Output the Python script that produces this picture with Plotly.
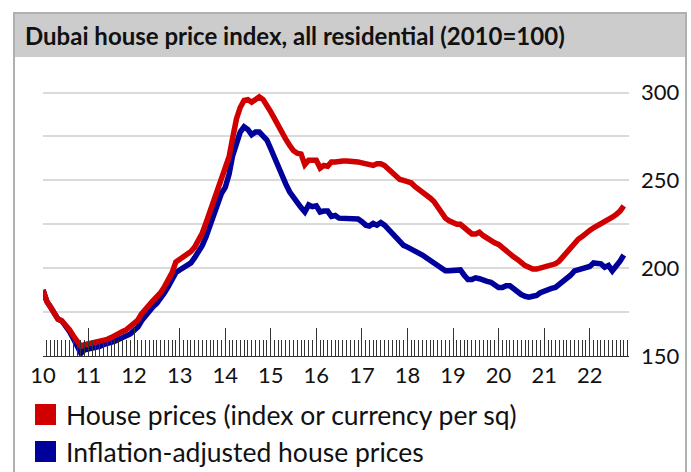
import pandas as pd
import plotly.graph_objects as go

# ---- data, monthly from Jan 2010 ----
house_prices = [
    187.6, 181, 178, 175, 171, 170, 168, 165, 161.5, 158.5, 155.5, 156.5,   # 2010
    157, 157, 157.5, 158, 158.5, 159.5, 160.5, 162, 163, 164, 165, 166.5,   # 2011
    168, 170.5, 174, 177, 179, 181.5, 183.5, 186, 189.5, 193, 197.5, 203.5, # 2012
    205, 206.5, 207.5, 209.5, 212, 215.5, 220, 226, 232.5, 238.5, 244, 250, # 2013
    256, 263.5, 274, 285, 291.5, 295.5, 296, 294.5, 296, 297.5, 296, 293,   # 2014
    289, 285, 281, 277, 273.5, 270, 267, 265.5, 265, 259, 261.5, 261.5,     # 2015
    261.5, 257, 258.5, 258, 260.5, 260.5, 261, 261, 261, 261, 261, 260.5,   # 2016
    260, 259.5, 258.5, 258.5, 259.5, 259.5, 258.5, 256.5, 254.5, 252, 250.5, 250,  # 2017
    249.5, 248.5, 246.5, 245, 243.5, 242, 240, 238, 234.5, 231, 228.5, 227,  # 2018
    226, 225, 225, 223, 221, 219.5, 219.5, 220.5, 218.5, 217, 215.5, 214.5,  # 2019
    213.5, 211.5, 210, 208, 206.5, 205, 203, 201.5, 200.5, 199.5, 199.5, 200,  # 2020
    200.5, 201, 201.5, 202.5, 204, 206.5, 209.5, 212, 214.5, 216.5, 218, 220,  # 2021
    221.5, 223, 224, 225, 226, 227.5, 229, 230.5, 232.5, 235.5,              # 2022
]
inflation_adjusted = [
    187.6, 181, 178, 175, 171, 170, 167.5, 164, 160, 156, 151.5, 153.5,     # 2010
    154, 154, 154.5, 155.5, 156.5, 157, 158, 158.5, 159.5, 160.5, 161, 162.5,  # 2011
    164.5, 166.5, 170, 173, 175.5, 178, 180, 182.5, 186, 189.5, 193.5, 197.5,  # 2012
    199, 200.5, 201.5, 203, 206, 209, 213, 218, 224, 230.5, 236.5, 242.5,   # 2013
    246, 253.5, 264, 272, 277.5, 280.5, 279, 276, 277.5, 277.5, 275.5, 273, # 2014
    268, 262.5, 258.5, 253.5, 248, 243.5, 240, 237.5, 234.5, 232, 236, 235, # 2015
    235.5, 232, 232.5, 232.5, 229.5, 230, 228.5, 228.5, 228, 228, 228, 228, # 2016
    226.5, 224.5, 224, 225.5, 224.5, 226, 224.5, 222, 220, 217.5, 215.5, 213,  # 2017
    212, 211, 210, 209, 207.5, 206, 204.5, 203, 201, 199.5, 198.5, 198.5,   # 2018
    198.5, 199, 199, 196, 193.5, 193.5, 194.5, 194, 193, 192.5, 192, 190,   # 2019
    189, 189, 190, 190, 188, 186, 185, 184, 183.5, 184, 184.5, 186,         # 2020
    187, 188, 188.5, 189, 190.5, 192, 194, 196, 198.5, 199, 199.5, 200,     # 2021
    201, 203, 203, 202.5, 200.5, 201.5, 198.5, 201, 204, 207.5,             # 2022
]
dates = pd.date_range("2010-01-01", periods=len(house_prices), freq="MS")

title_text = "Dubai house price index, all residential (2010=100)"
legend_labels = ["House prices (index or currency per sq)", "Inflation-adjusted house prices"]
y_tick_vals = [150, 175, 200, 225, 250, 275, 300]
y_tick_text = ["150", "", "200", "", "250", "", "300"]

RED = "#d00000"
BLUE = "#00009a"
FONT = "Lato"

# ---- geometry (pixels) ----
W, H = 691, 472
PL, PR, PT, PB = 43, 629, 75, 356


def px(x):
    return (x - PL) / (PR - PL)


def py(y):
    return (PB - y) / (PB - PT)


fig = go.Figure()
fig.add_trace(go.Scatter(x=dates, y=inflation_adjusted, mode="lines",
                         line=dict(color=BLUE, width=5.5), name=legend_labels[1]))
fig.add_trace(go.Scatter(x=dates, y=house_prices, mode="lines",
                         line=dict(color=RED, width=5.5), name=legend_labels[0]))

shapes = [
    # outer frame
    dict(type="rect", xref="paper", yref="paper", x0=px(14), x1=px(686), y0=py(490), y1=py(13),
         line=dict(color="#b0b0b0", width=2), fillcolor="rgba(0,0,0,0)", layer="below"),
    # title bar
    dict(type="rect", xref="paper", yref="paper", x0=px(15), x1=px(685), y0=py(57), y1=py(14),
         line=dict(width=0), fillcolor="#cccccc", layer="below"),
    # legend swatches
    dict(type="rect", xref="paper", yref="paper", x0=px(35), x1=px(56), y0=py(425), y1=py(404),
         line=dict(width=0), fillcolor=RED),
    dict(type="rect", xref="paper", yref="paper", x0=px(35), x1=px(56), y0=py(462), y1=py(441),
         line=dict(width=0), fillcolor=BLUE),
]

annotations = [
    dict(text="<b>" + title_text + "</b>", xref="paper", yref="paper", x=px(23), y=py(35),
         xanchor="left", yanchor="middle", showarrow=False,
         font=dict(family=FONT, size=24, color="#111111")),
    dict(text=legend_labels[0], xref="paper", yref="paper", x=px(64), y=py(415),
         xanchor="left", yanchor="middle", showarrow=False,
         font=dict(family=FONT, size=26.5, color="#111111")),
    dict(text=legend_labels[1], xref="paper", yref="paper", x=px(64), y=py(452),
         xanchor="left", yanchor="middle", showarrow=False,
         font=dict(family=FONT, size=26.5, color="#111111")),
]

fig.update_layout(
    width=W, height=H,
    margin=dict(l=PL, r=W - PR, t=PT, b=H - PB, pad=0),
    paper_bgcolor="white", plot_bgcolor="white",
    showlegend=False,
    shapes=shapes, annotations=annotations,
    font=dict(family=FONT, color="#111111"),
    xaxis=dict(
        type="date",
        range=["2010-01-01", "2022-11-12"],
        tick0="2010-01-01", dtick="M12", tickformat="%y",
        ticks="inside", ticklen=28, tickwidth=1, tickcolor="#333333",
        minor=dict(ticks="inside", ticklen=16, dtick="M1", tickwidth=1, tickcolor="#333333"),
        showgrid=False, zeroline=False,
        showline=True, linecolor="#333333", linewidth=1,
        tickfont=dict(family=FONT, size=22, color="#111111"),
        fixedrange=True,
    ),
    yaxis=dict(
        side="right", range=[150, 310],
        tickvals=y_tick_vals, ticktext=y_tick_text,
        ticks="", ticklabelstandoff=11,
        showgrid=True, gridcolor="#dadada", gridwidth=1.5,
        zeroline=False, showline=False,
        tickfont=dict(family=FONT, size=22, color="#111111"),
        fixedrange=True,
    ),
)

# the page's default 8px body margin would shift the figure; remove it
fig.write_html("out.html", config={"displayModeBar": False},
               post_script="document.body.style.margin='0';")
